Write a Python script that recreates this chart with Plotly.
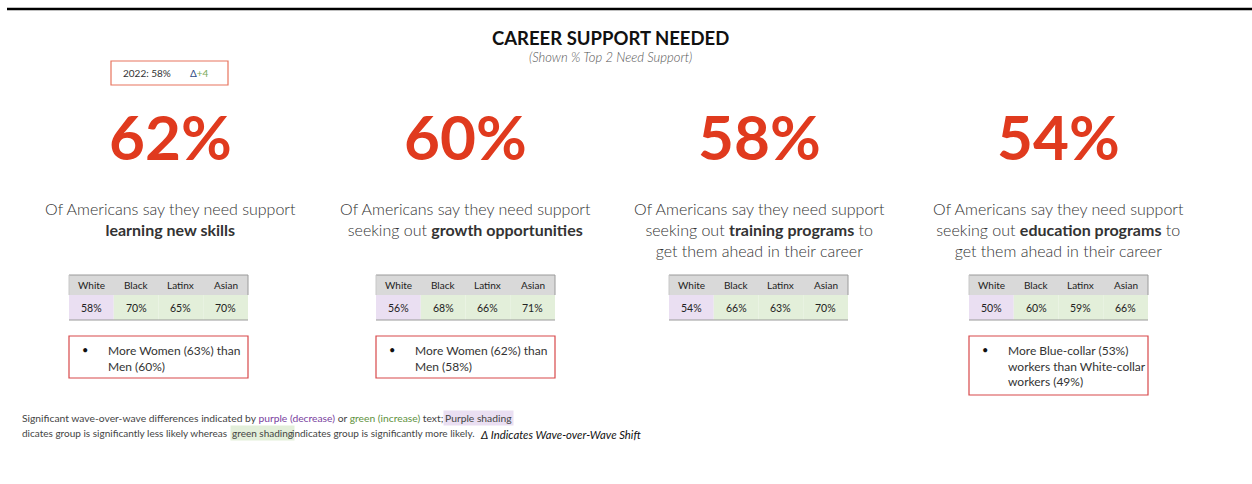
import plotly.graph_objects as go

# ---------------- data ----------------
headline_pct = [62, 60, 58, 54]
desc_plain_1 = ["Of Americans say they need support"] * 4
desc_lines = [
    ["<b>learning new skills</b>"],
    ["seeking out <b>growth opportunities</b>"],
    ["seeking out <b>training programs</b> to", "get them ahead in their career"],
    ["seeking out <b>education programs</b> to", "get them ahead in their career"],
]
groups = ["White", "Black", "Latinx", "Asian"]
white_pct = [58, 56, 54, 50]
black_pct = [70, 68, 66, 60]
latinx_pct = [65, 66, 63, 59]
asian_pct = [70, 71, 70, 66]
group_shade = ["purple", "green", "green", "green"]
notes = [
    ["More Women (63%) than", "Men (60%)"],
    ["More Women (62%) than", "Men (58%)"],
    None,
    ["More Blue-collar (53%)", "workers than White-collar", "workers (49%)"],
]
prior_year_label = "2022: 58%"
prior_delta = "+4"

title = "CAREER SUPPORT NEEDED"
subtitle = "(Shown % Top 2 Need Support)"

# ---------------- layout constants ----------------
W, H = 1252, 484
FONT = "Lato"
RED = "#E03A1E"
TEXT = "#333333"
SHADE = {"purple": "#EADFF2", "green": "#E3EFDA"}
panel_centers = [170, 465, 759, 1058]
table_lefts = [69, 376, 669, 969]
table_w = 179
col_w = table_w / 4

shapes = []
ann = []

def A(x, y, text, size=12, color=TEXT, xanchor="center", yanchor="middle", align="center",
      weight="normal", **kw):
    ann.append(dict(x=x, y=y, xref="x", yref="y", text=text, showarrow=False,
                    font=dict(family=FONT, size=size, color=color, weight=weight),
                    xanchor=xanchor, yanchor=yanchor, align=align, **kw))

# top rule
shapes.append(dict(type="line", xref="x", yref="y", x0=7, x1=W, y0=9, y1=9,
                   line=dict(color="black", width=2.5)))

# title
A(610, 38, f"<b>{title}</b>", size=18.5, color="#111111")
A(610, 57, f"<i>{subtitle}</i>", size=13, color="#555555", weight=300)

# 2022 box
shapes.append(dict(type="rect", xref="x", yref="y", x0=111, x1=228, y0=61, y1=85,
                   line=dict(color="#E8745E", width=1.2)))
A(121, 73, prior_year_label, size=10, color="#333333", xanchor="left")
A(188, 73, f"<span style='color:#2E4A86'>Δ</span><span style='color:#7BAA5A'>{prior_delta}</span>",
  size=10, xanchor="left")

table_vals = list(zip(white_pct, black_pct, latinx_pct, asian_pct))

for i in range(4):
    cx = panel_centers[i]
    # headline
    A(cx, 136, f"<b>{headline_pct[i]}%</b>", size=62, color=RED)
    # description
    lines = [desc_plain_1[i]] + desc_lines[i]
    A(cx, 197, "<br>".join(lines), size=16, color=TEXT, yanchor="top", weight=300)

    # table
    x0 = table_lefts[i]
    shapes.append(dict(type="rect", xref="x", yref="y", x0=x0, x1=x0 + table_w, y0=275, y1=295,
                       fillcolor="#D9D9D9", line=dict(width=0), layer="below"))
    for j, g in enumerate(groups):
        cx0 = x0 + j * col_w
        shapes.append(dict(type="rect", xref="x", yref="y", x0=cx0, x1=cx0 + col_w, y0=295, y1=320,
                           fillcolor=SHADE[group_shade[j]], line=dict(width=0), layer="below"))
        A(cx0 + col_w / 2, 285, g, size=10, color="#222222")
        A(cx0 + col_w / 2, 308, f"{table_vals[i][j]}%", size=10.5, color="#222222")
    for yy in (275, 320):
        shapes.append(dict(type="line", xref="x", yref="y", x0=x0, x1=x0 + table_w, y0=yy, y1=yy,
                           line=dict(color="#9A9A9A", width=1)))
    shapes.append(dict(type="line", xref="x", yref="y", x0=x0 + table_w, x1=x0 + table_w, y0=275, y1=295,
                       line=dict(color="#9A9A9A", width=1)))
    shapes.append(dict(type="line", xref="x", yref="y", x0=x0, x1=x0, y0=275, y1=295,
                       line=dict(color="#C8C8C8", width=1)))

    # notes box
    if notes[i]:
        n = len(notes[i])
        y1 = 336 + 17 * n + 8
        shapes.append(dict(type="rect", xref="x", yref="y", x0=x0, x1=x0 + table_w, y0=336, y1=y1,
                           line=dict(color="#D8484A", width=1.2)))
        A(x0 + 11, 349, "•", size=11, color="#111111", xanchor="left")
        A(x0 + 37, 341, "<br>".join(notes[i]), size=12, color=TEXT, xanchor="left",
          yanchor="top", align="left")

# footnote
FN = "#444444"
A(20, 418, "Significant wave-over-wave differences indicated by "
           "<span style='color:#7A3FA0'>purple (decrease)</span> or "
           "<span style='color:#5E9140'>green (increase)</span> text;",
  size=10.3, color=FN, xanchor="left")
A(443, 418, "Purple shading", size=10.3, color=FN, xanchor="left",
  bgcolor="#EADFF2", borderpad=1)
A(20, 433, "dicates group is significantly less likely whereas",
  size=10, color=FN, xanchor="left")
A(230, 433, "green shading", size=10, color=FN, xanchor="left",
  bgcolor="#E3EFDA", borderpad=1)
A(290, 433, "indicates group is significantly more likely.",
  size=10, color=FN, xanchor="left")
A(478, 434, "<i>Δ Indicates Wave-over-Wave Shift</i>", size=11.3, color="#111111", xanchor="left")

fig = go.Figure()
fig.add_trace(go.Scatter(x=[0, W], y=[0, H], mode="markers", marker=dict(opacity=0),
                         hoverinfo="skip", showlegend=False))
fig.update_layout(
    width=W, height=H, margin=dict(l=0, r=0, t=0, b=0),
    paper_bgcolor="white", plot_bgcolor="white",
    xaxis=dict(range=[0, W], visible=False, fixedrange=True),
    yaxis=dict(range=[H, 0], visible=False, fixedrange=True),
    shapes=shapes, annotations=ann, showlegend=False,
)
fig.write_html("out.html", config={"displayModeBar": False},
               post_script="document.body.style.margin='0';document.body.style.overflow='hidden';")
